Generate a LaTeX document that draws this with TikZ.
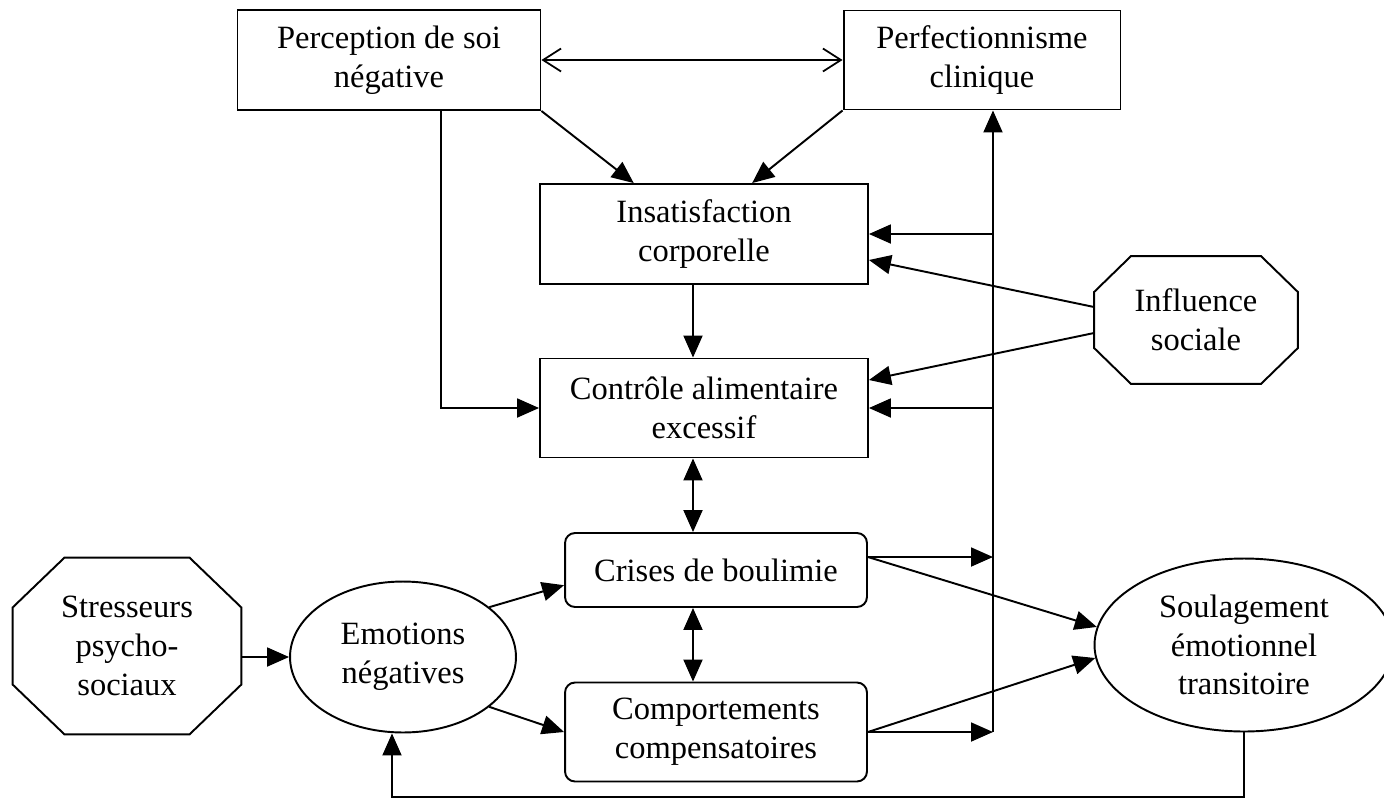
\documentclass[tikz,border=0pt]{standalone}
\usepackage{fontspec}
\setmainfont{Liberation Serif}
\usetikzlibrary{shapes.geometric, arrows.meta, calc}

\tikzset{
  boite/.style={draw, line width=1.1pt, align=center, inner sep=2pt,
    font=\fontsize{18.5}{22}\selectfont},
  rboite/.style={boite, rounded corners=0.2cm},
  ovale/.style={boite, ellipse},
  octo/.style={boite, draw=none},
  fleche/.style={line width=1.1pt, -{Triangle[length=0.44cm, width=0.38cm]}},
  fleches/.style={line width=1.1pt, {Triangle[length=0.44cm, width=0.38cm]}-{Triangle[length=0.44cm, width=0.38cm]}},
  barbes/.style={line width=1pt, {Straight Barb[length=0.36cm, width=0.46cm]}-{Straight Barb[length=0.36cm, width=0.46cm]}}
}
% contour octogonal autour d'un noeud : nom, coupe x, coupe y
\newcommand\octogone[3]{%
  \draw[line width=1.1pt] ([xshift=#2]#1.north west) -- ([xshift=-#2]#1.north east)
    -- ([yshift=-#3]#1.north east) -- ([yshift=#3]#1.south east)
    -- ([xshift=-#2]#1.south east) -- ([xshift=#2]#1.south west)
    -- ([yshift=#3]#1.south west) -- ([yshift=-#3]#1.north west) -- cycle;}

\begin{document}
\begin{tikzpicture}[x=0.02cm, y=-0.02cm]
  \useasboundingbox (0,0) rectangle (1384,806);

  % les boites
  \node[boite, minimum width=6.06cm, minimum height=2cm] (percep) at (389,60) {Perception de soi\\négative};
  \node[boite, minimum width=5.54cm, minimum height=1.98cm] (perf) at (982,60) {Perfectionnisme\\clinique};
  \node[boite, minimum width=6.56cm, minimum height=2cm] (insat) at (704,234) {Insatisfaction\\corporelle};
  \node[boite, minimum width=6.56cm, minimum height=1.98cm] (ctrl) at (704,408) {Contrôle alimentaire\\excessif};
  \node[rboite, minimum width=6.04cm, minimum height=1.48cm] (crises) at (716,570) {Crises de boulimie};
  \node[rboite, minimum width=6.04cm, minimum height=1.98cm] (comp) at (716,732) {Comportements\\compensatoires};

  % ellipses et octogones
  \node[ovale, minimum width=4.52cm, minimum height=3.02cm] (emo) at (403,657) {Emotions\\négatives};
  \node[ovale, minimum width=5.98cm, minimum height=3.46cm] (soul) at (1244,645) {Soulagement\\émotionnel\\transitoire};
  \node[octo, minimum width=4.54cm, minimum height=3.5cm] (stress) at (127,646) {Stresseurs\\psycho-\\sociaux};
  \octogone{stress}{1.04cm}{1cm}
  \node[octo, minimum width=4.04cm, minimum height=2.52cm] (infl) at (1196,320) {Influence\\sociale};
  \octogone{infl}{0.74cm}{0.72cm}

  \coordinate (col) at (693,0);   % colonne centrale
  \coordinate (rail) at (993,0);  % ligne verticale de droite
  \coordinate (gauche) at (441,0);
  \coordinate (fb) at (392,797);  % retour en bas

  \draw[barbes] (percep.east) -- (perf.west);
  \draw[fleche] (percep.south east) -- ($(insat.north west)!0.287!(insat.north east)$);
  \draw[fleche] (perf.south west) -- ($(insat.north west)!0.646!(insat.north east)$);
  \draw[fleche] (insat.south -| col) -- (ctrl.north -| col);
  \draw[fleche] (percep.south -| gauche) |- (ctrl.west);
  \draw[fleches] (ctrl.south -| col) -- (crises.north -| col);
  \draw[fleches] (crises.south -| col) -- (comp.north -| col);

  % la ligne de droite
  \draw[fleche] (comp.east -| rail) -- (perf.south -| rail);
  \draw[fleche] (rail |- insat.east) -- (insat.east);
  \draw[fleche] (rail |- ctrl.east) -- (ctrl.east);
  \draw[fleche] ([yshift=0.26cm]infl.west) -- ([yshift=-0.52cm]insat.east);
  \draw[fleche] ([yshift=-0.26cm]infl.west) -- ([yshift=0.56cm]ctrl.east);

  \coordinate (cr) at ([yshift=0.26cm]crises.east);
  \draw[fleche] (cr) -- (cr -| rail);
  \draw[fleche] (cr) -- (soul.173);
  \draw[fleche] (comp.east) -- (comp.east -| rail);
  \draw[fleche] (comp.east) -- (soul.185);

  % en bas a gauche
  \draw[fleche] (stress.east |- emo.west) -- (emo.west);
  \draw[fleche] (emo.30) -- ($(crises.south west)!0.3!(crises.north west)$);
  \draw[fleche] (emo.-30) -- (comp.west);
  \draw[fleche] (soul.south) |- (fb) -- (emo.south -| fb);
\end{tikzpicture}
\end{document}
